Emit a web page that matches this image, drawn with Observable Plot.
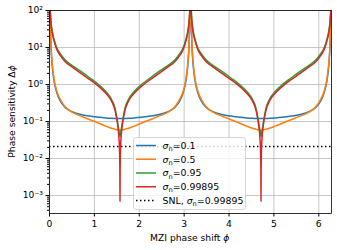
<!DOCTYPE html>
<html><head><meta charset="utf-8">
<script src="https://cdn.jsdelivr.net/npm/d3@7"></script>
<script src="https://cdn.jsdelivr.net/npm/@observablehq/plot@0.6"></script>
<style>body{margin:0;background:#fff}</style>
</head><body><div id="chart"></div>
<script>
// MZI phase shift samples (rad)
const phi = [
0.004,0.012,0.02,0.035,0.06,0.1,0.16,0.24,0.35,0.5,0.7,0.9,1.1,1.25,1.38,1.46,1.52,1.55,1.562,1.568,1.5708,
1.5736,1.5796,1.5916,1.6216,1.6816,1.7616,1.8916,2.0416,2.2416,2.4416,2.6416,2.7916,2.9016,2.9816,3.0416,3.0816,3.1066,3.1216,3.1296,3.1376,
3.1456,3.1536,3.1616,3.1766,3.2016,3.2416,3.3016,3.3816,3.4916,3.6416,3.8416,4.0416,4.2416,4.3916,4.5216,4.6016,4.6616,4.6916,4.7036,4.7096,4.7124,
4.7152,4.7212,4.7332,4.7632,4.8232,4.9032,5.0332,5.1832,5.3832,5.5832,5.7832,5.9332,6.0432,6.1232,6.1832,6.2232,6.2482,6.2632,6.2712,6.2792];

const sens01 = [
700,85,32,9.5,3.3,1.3,0.62,0.36,0.24,0.185,0.155,0.14,0.13,0.125,0.122,0.121,0.12,0.12,0.12,0.12,0.12,
0.12,0.12,0.12,0.12,0.121,0.122,0.125,0.13,0.14,0.155,0.185,0.24,0.36,0.62,1.3,3.3,9.5,32,85,700,
700,85,32,9.5,3.3,1.3,0.62,0.36,0.24,0.185,0.155,0.14,0.13,0.125,0.122,0.121,0.12,0.12,0.12,0.12,0.12,
0.12,0.12,0.12,0.12,0.121,0.122,0.125,0.13,0.14,0.155,0.185,0.24,0.36,0.62,1.3,3.3,9.5,32,85,700];

const sens05 = [
800,100,38,11,3.8,1.45,0.68,0.4,0.25,0.18,0.14,0.112,0.09,0.075,0.066,0.062,0.059,0.058,0.058,0.058,0.058,
0.058,0.058,0.058,0.059,0.062,0.066,0.075,0.09,0.112,0.14,0.18,0.25,0.4,0.68,1.45,3.8,11,38,100,800,
800,100,38,11,3.8,1.45,0.68,0.4,0.25,0.18,0.14,0.112,0.09,0.075,0.066,0.062,0.059,0.058,0.058,0.058,0.058,
0.058,0.058,0.058,0.059,0.062,0.066,0.075,0.09,0.112,0.14,0.18,0.25,0.4,0.68,1.45,3.8,11,38,100,800];

const sens095 = [
400,140,85,48,28,17,10,6.8,4.6,3.3,2.25,1.5,0.98,0.66,0.4,0.23,0.09,0.055,0.045,0.041,0.04,
0.041,0.045,0.055,0.09,0.23,0.4,0.66,0.98,1.5,2.25,3.3,4.6,6.8,10,17,28,48,85,140,400,
400,140,85,48,28,17,10,6.8,4.6,3.3,2.25,1.5,0.98,0.66,0.4,0.23,0.09,0.055,0.045,0.041,0.04,
0.041,0.045,0.055,0.09,0.23,0.4,0.66,0.98,1.5,2.25,3.3,4.6,6.8,10,17,28,48,85,140,400];

const sens099 = [
360,126,76,43,25,15.3,9,6.1,4.1,3.0,2.0,1.35,0.88,0.59,0.36,0.2,0.078,0.032,0.014,0.005,0.0007,
0.005,0.014,0.032,0.078,0.2,0.36,0.59,0.88,1.35,2.0,3.0,4.1,6.1,9,15.3,25,43,76,126,360,
360,126,76,43,25,15.3,9,6.1,4.1,3.0,2.0,1.35,0.88,0.59,0.36,0.2,0.078,0.032,0.014,0.005,0.0007,
0.005,0.014,0.032,0.078,0.2,0.36,0.59,0.88,1.35,2.0,3.0,4.1,6.1,9,15.3,25,43,76,126,360];

const sigmaLabels = ["0.1","0.5","0.95","0.99895"];
const snlSigma = "0.99895";
const snl = 0.021;
const xTicks = [0,1,2,3,4,5,6];
const yTicks = [1e-3,1e-2,1e-1,1,10,100];
const yTickLabels = ["10\u207B\u00B3","10\u207B\u00B2","10\u207B\u00B9","10\u2070","10\u00B9","10\u00B2"];
const colors = ["#1f77b4","#ff7f0e","#2ca02c","#d62728"];

const series = [sens01, sens05, sens095, sens099];
const rows = [];
series.forEach((arr, i) => arr.forEach((v, j) => rows.push({phi: phi[j], v, s: sigmaLabels[i]})));

const yMin = 3.27e-4, yMax = 100;
const minor = [];
for (let e = -4; e <= 1; e++) for (let m = 2; m <= 9; m++) { const v = m * Math.pow(10, e); if (v >= yMin && v <= yMax) minor.push(v); }

const chart = Plot.plot({
  width: 337, height: 250,
  marginLeft: 49, marginRight: 6, marginTop: 10, marginBottom: 37,
  style: {fontFamily: "DejaVu Sans", fontSize: "9.2px", color: "black", background: "white", overflow: "visible"},
  x: {domain: [0, 2 * Math.PI]},
  y: {type: "log", domain: [yMin, yMax]},
  color: {domain: sigmaLabels, range: colors},
  marks: [
    Plot.gridX(xTicks, {stroke: "#b0b0b0", strokeOpacity: 0.8, strokeWidth: 0.9}),
    Plot.gridY(yTicks, {stroke: "#b0b0b0", strokeOpacity: 0.8, strokeWidth: 0.9}),
    Plot.ruleY([snl], {stroke: "black", strokeWidth: 1.5, strokeDasharray: "1.5,2.5"}),
    Plot.line(rows, {x: "phi", y: "v", z: "s", stroke: "s", strokeWidth: 1.5, clip: true, curve: "monotone-x"}),
    Plot.frame({stroke: "black", strokeWidth: 0.8}),
    Plot.axisX(xTicks, {tickSize: 3.5, tickPadding: 3, label: null, tickFormat: d => String(d)}),
    Plot.axisY(yTicks, {tickSize: 3.5, tickPadding: 3, label: null, tickFormat: d => yTickLabels[yTicks.indexOf(d)]}),
    Plot.axisY(minor, {tickSize: 2, label: null, tickFormat: () => ""})
  ]
});
document.getElementById("chart").appendChild(chart);

const svg = d3.select(chart);
// axis labels
const xl = svg.append("text").attr("x", 189.7).attr("y", 240.5).style("text-anchor", "middle")
  .style("font-size", "9.2px").style("fill", "black");
xl.append("tspan").text("MZI phase shift ");
xl.append("tspan").style("font-style", "italic").text("\u03D5");

const yl = svg.append("text").attr("transform", "translate(14.5,111.5) rotate(-90)").style("text-anchor", "middle")
  .style("font-size", "9.2px").style("fill", "black");
yl.append("tspan").text("Phase sensitivity \u0394");
yl.append("tspan").style("font-style", "italic").text("\u03D5");

// legend
const lg = svg.append("g").style("font-size", "9.4px").style("fill", "black").style("text-anchor", "start");
lg.append("rect").attr("x", 133.5).attr("y", 137.5).attr("width", 112).attr("height", 72).attr("rx", 2.5)
  .style("fill", "white").style("fill-opacity", 0.8).style("stroke", "#cccccc").style("stroke-width", 0.8);
const entries = sigmaLabels.map((s, i) => ({pre: "", s, color: colors[i], dash: null}));
entries.push({pre: "SNL, ", s: snlSigma, color: "black", dash: "1.5,2.5"});
const y0 = 145.5, dy = 13.75;
entries.forEach((e, i) => {
  const y = y0 + i * dy;
  const ln = lg.append("line").attr("x1", 136).attr("x2", 156).attr("y1", y).attr("y2", y)
    .style("stroke", e.color).style("stroke-width", 1.5);
  if (e.dash) ln.style("stroke-dasharray", e.dash);
  const t = lg.append("text").attr("x", 162.5).attr("y", y + 3.4).style("text-anchor", "start").style("fill", "black");
  if (e.pre) t.append("tspan").text(e.pre);
  t.append("tspan").style("font-style", "italic").text("\u03C3");
  t.append("tspan").style("font-size", "6.6px").attr("dy", 2.2).text("n");
  t.append("tspan").attr("dy", -2.2).text("=" + e.s);
});
</script>
</body></html>
